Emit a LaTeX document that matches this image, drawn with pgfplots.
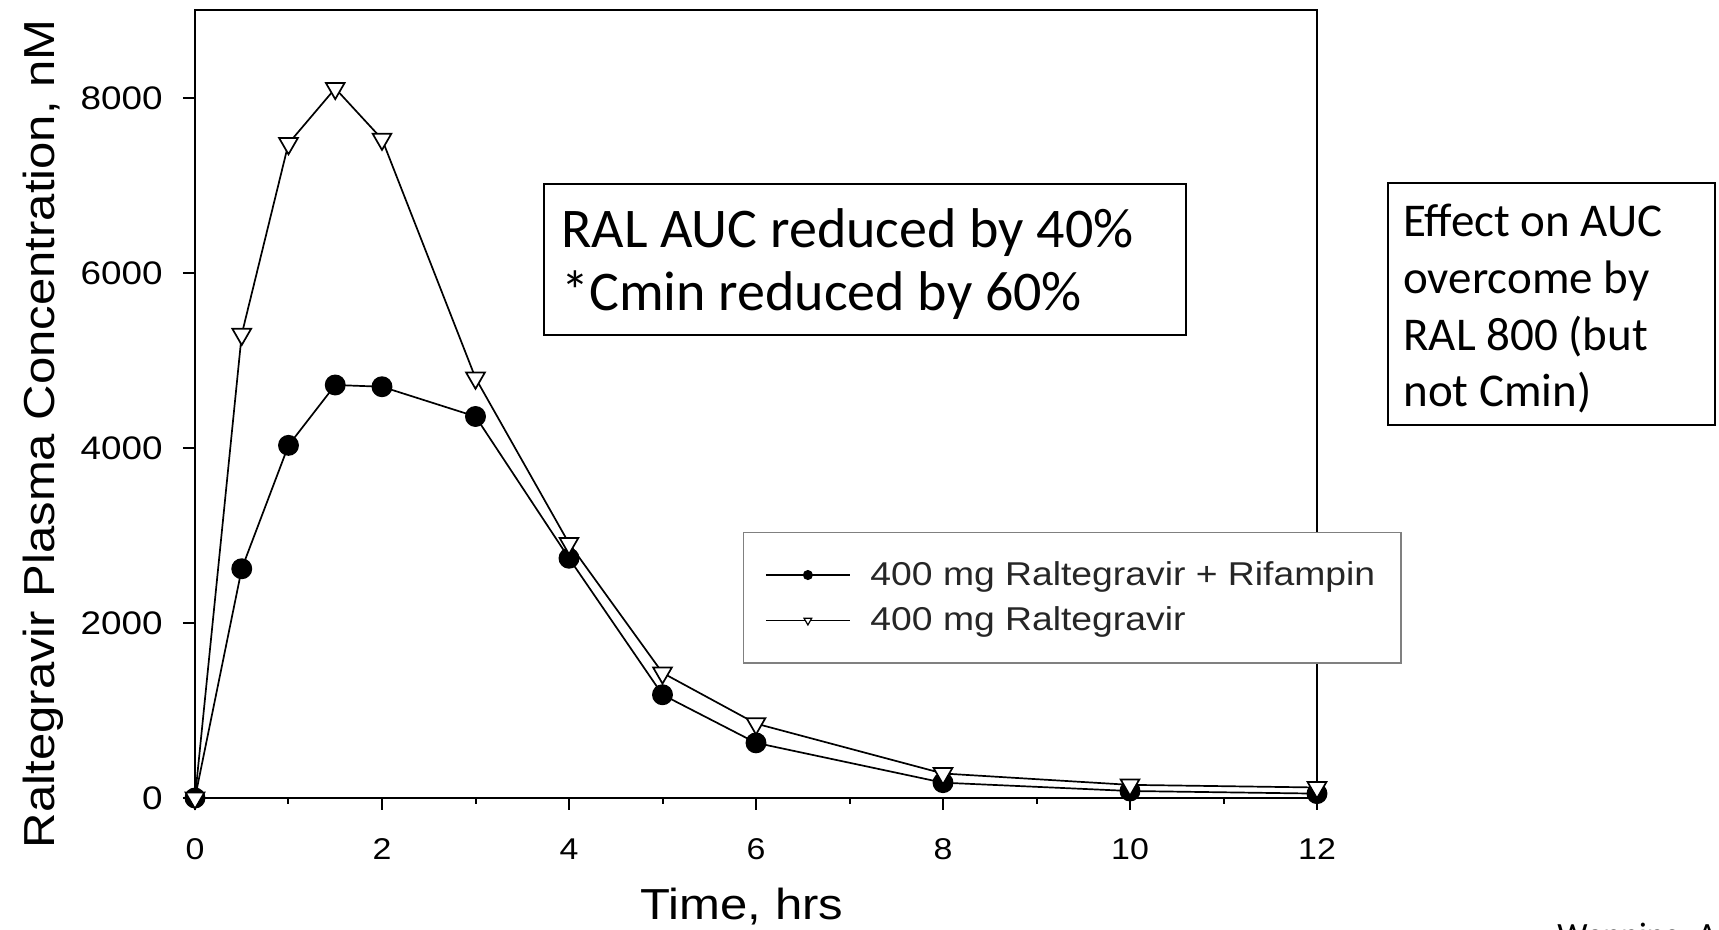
\documentclass[border=0pt]{standalone}
\usepackage{fontspec}
\setmainfont{Liberation Sans}
\newfontfamily\chartfont[FakeStretch=1.13]{Liberation Sans}
\newfontfamily\calibri{Carlito}
\usepackage{pgfplots}
\pgfplotsset{compat=1.18}
\begin{document}
\begin{tikzpicture}
\path[use as bounding box] (0pt,0pt) rectangle (859.5pt,465pt);
\begin{axis}[
  at={(97.5pt,66pt)}, anchor=south west,
  scale only axis, width=561pt, height=393.75pt,
  xmin=0, xmax=12, ymin=0, ymax=9000,
  xtick={0,2,4,6,8,10,12}, minor x tick num=1,
  ytick={0,2000,4000,6000,8000},
  tick align=outside, xtick pos=bottom, ytick pos=left,
  major tick length=6pt, minor tick length=3pt,
  axis line style={line width=1pt},
  tick style={black, line width=1pt},
  /pgf/number format/assume math mode=true,
  /pgf/number format/1000 sep={},
  scaled y ticks=false,
  yticklabel style={font=\chartfont\fontsize{16.3}{16.3}\selectfont, anchor=east, inner sep=0pt, xshift=-10pt},
  xticklabel style={font=\chartfont\fontsize{15}{15}\selectfont, anchor=north, inner sep=0pt, yshift=-14pt},
  xlabel={Time, hrs},
  xlabel style={at={(axis description cs:0.5,0)}, anchor=base, yshift=-61pt, xshift=-7pt, font=\chartfont\fontsize{21.7}{21.7}\selectfont},
  ylabel={Raltegravir Plasma Concentration, nM},
  ylabel style={at={(axis description cs:-0.1252,0.4626)}, anchor=base, font=\chartfont\fontsize{21.7}{21.7}\selectfont},
  legend style={at={(axis description cs:0.488,0.338)}, anchor=north west, draw=black!50, line width=0.75pt, fill=white,
    font=\chartfont\fontsize{16.5}{16.5}\selectfont, text=black!85, inner xsep=11pt, inner ysep=12.5pt, row sep=5.3pt, column sep=8pt},
  legend cell align=left,
  legend image code/.code={\draw[mark repeat=2, mark phase=2, line width=0.6pt, mark size=2.2pt] plot coordinates {(0pt,0pt) (21pt,0pt) (42pt,0pt)};},
]
\addplot[black, line width=0.85pt, mark=*, mark size=4.8pt, mark options={fill=black}]
  coordinates {(0,0) (0.5,2620) (1,4030) (1.5,4720) (2,4700) (3,4360) (4,2740) (5,1180) (6,630) (8,175) (10,80) (12,50)};
\addlegendentry{400 mg Raltegravir + Rifampin}
\addplot[black, line width=0.85pt, mark=triangle*, mark size=5.4pt, mark options={fill=white, rotate=180}]
  coordinates {(0,0) (0.5,5300) (1,7480) (1.5,8110) (2,7530) (3,4800) (4,2910) (5,1430) (6,850) (8,280) (10,150) (12,120)};
\addlegendentry{400 mg Raltegravir}
\end{axis}
\draw[line width=0.8pt] (272pt,297.5pt) rectangle (593pt,373pt);
\node[anchor=base west, inner sep=0pt, font=\calibri\fontsize{28}{32}\selectfont] at (280.5pt,341pt) {RAL AUC reduced by 40\%};
\node[anchor=base west, inner sep=0pt, font=\calibri\fontsize{28}{32}\selectfont] at (280.5pt,309.5pt) {*Cmin reduced by 60\%};
\draw[line width=0.8pt] (694pt,252.5pt) rectangle (857.5pt,373.5pt);
\node[anchor=base west, inner sep=0pt, font=\calibri\fontsize{23.5}{28}\selectfont] at (701.5pt,346.5pt) {Effect on AUC};
\node[anchor=base west, inner sep=0pt, font=\calibri\fontsize{23.5}{28}\selectfont] at (701.5pt,318.2pt) {overcome by};
\node[anchor=base west, inner sep=0pt, font=\calibri\fontsize{23.5}{28}\selectfont] at (701.5pt,289.9pt) {RAL 800 (but};
\node[anchor=base west, inner sep=0pt, font=\calibri\fontsize{23.5}{28}\selectfont] at (701.5pt,261.6pt) {not Cmin)};
\node[anchor=base west, inner sep=0pt, font=\calibri\fontsize{17}{17}\selectfont] at (778.5pt,-8.5pt) {Wenning, AAC 2009};
\end{tikzpicture}
\end{document}
